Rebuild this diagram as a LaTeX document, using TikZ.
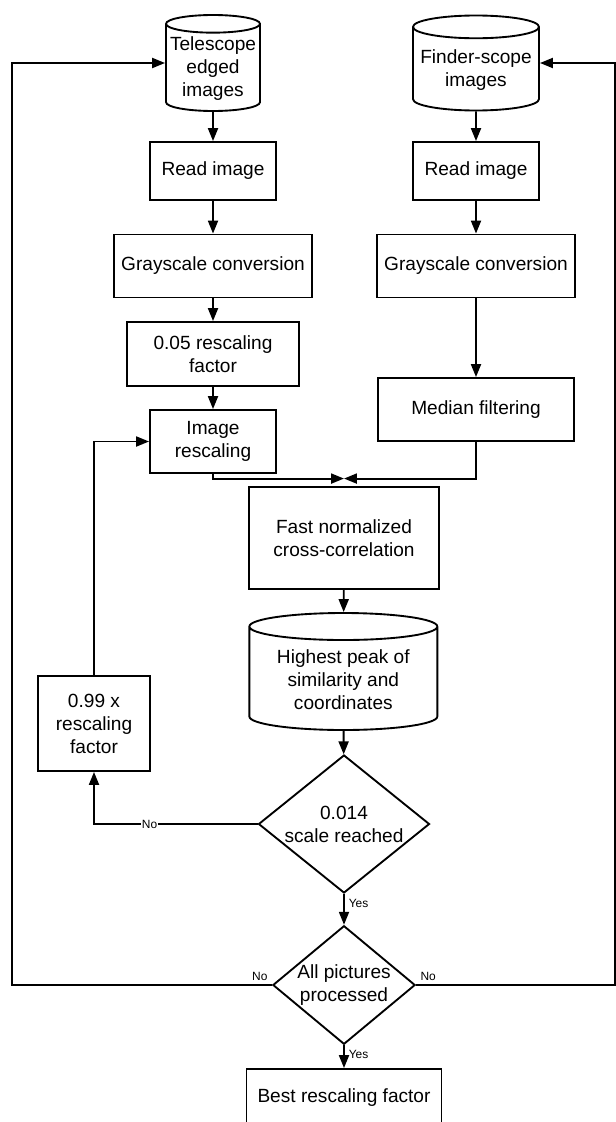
\documentclass[tikz,border=0pt]{standalone}
\usepackage{fontspec}
\setmainfont{Liberation Sans}
\usetikzlibrary{shapes.geometric,arrows.meta,positioning}

\begin{document}
\begin{tikzpicture}[>={Triangle[length=11pt,width=8.5pt]},line width=1.6pt,on grid,auto,
  font=\fontsize{16.3}{19.6}\selectfont,
  box/.style={draw,rectangle,align=center,inner sep=2pt},
  store/.style={draw,cylinder,shape border rotate=90,aspect=0.2,align=center,inner sep=1pt},
  test/.style={draw,diamond,align=center,inner sep=0pt},
  lbl/.style={font=\fontsize{10.2}{12}\selectfont}]
  \useasboundingbox (0,0) rectangle (18.48,-33.66);
  \clip (0,0) rectangle (18.48,-33.66);
  \path
  node[store,minimum width=2.82cm,minimum height=2.88cm,anchor=shape center] (tele) at (6.39,-1.89) {Telescope\\edged\\images}
  node[store,minimum width=3.78cm,minimum height=2.85cm,anchor=shape center] (finder) at (14.28,-1.89) {Finder-scope\\images}
  node[box,minimum width=3.78cm,minimum height=1.74cm] (read_1) at (6.39,-5.13) {Read image}
  node[box,minimum width=3.78cm,minimum height=1.74cm] (read_2) [right=7.89cm of read_1] {Read image}
  node[box,minimum width=5.94cm,minimum height=1.89cm] (gray_1) [below=2.85cm of read_1] {Grayscale conversion}
  node[box,minimum width=5.94cm,minimum height=1.89cm] (gray_2) [below=2.85cm of read_2] {Grayscale conversion}
  node[box,minimum width=5.16cm,minimum height=1.92cm] (resc) [below=2.64cm of gray_1] {0.05 rescaling\\factor}
  node[box,minimum width=3.78cm,minimum height=1.89cm] (imgresc) [below=2.625cm of resc] {Image\\rescaling}
  node[box,minimum width=5.9cm,minimum height=1.89cm] (median) [below=4.305cm of gray_2] {Median filtering}
  node[box,minimum width=5.7cm,minimum height=3.06cm] (fast) at (10.32,-16.14) {Fast normalized\\cross-correlation}
  node[store,minimum width=5.64cm,minimum height=3.51cm,anchor=shape center] (peak) at (10.3,-20.145) {Highest peak of\\similarity and\\coordinates}
  node[test,aspect=1.24,minimum width=5.13cm,minimum height=4.14cm] (scale) at (10.32,-24.72) {0.014\\scale reached}
  node[box,minimum width=3.36cm,minimum height=2.85cm] (factor) at (2.82,-21.705) {0.99 x\\rescaling\\factor}
  node[test,aspect=1.2,minimum width=4.23cm,minimum height=3.51cm] (pics) [below=4.83cm of scale] {All pictures\\processed}
  node[box,minimum width=5.85cm,minimum height=1.74cm] (best) [below=3.39cm of pics] {Best rescaling factor}
  ;
  \coordinate (lrail) at (0.36,0);
  \coordinate (rrail) at (18.45,0);
  \coordinate (merge) at ([yshift=0.225cm]fast.north);
  \path[->]
  (tele) edge (read_1)
  (finder) edge (read_2)
  (read_1) edge (gray_1)
  (read_2) edge (gray_2)
  (gray_1) edge (resc)
  (gray_2) edge (median)
  (resc) edge (imgresc)
  (fast) edge (peak)
  (peak) edge (scale)
  (scale) edge node[lbl,pos=0.3] {Yes} (pics)
  (pics) edge node[lbl,pos=0.4] {Yes} (best)
  ;
  \draw[->] (imgresc.south) |- (merge);
  \draw[->] (median.south) |- (merge);
  \draw[->] (scale.west) -| node[lbl,auto=false,fill=white,inner sep=1pt,pos=0.33] {No} (factor.south);
  \draw[->] (factor.north) |- (imgresc.west);
  \draw[->] (pics.west) node[lbl,above left,inner sep=3pt] {No} -- (pics.west -| lrail) |- (tele.west |- tele.shape center);
  \draw[->] (pics.east) node[lbl,above right,inner sep=3pt] {No} -- (pics.east -| rrail) |- (finder.east |- finder.shape center);
\end{tikzpicture}
\end{document}
